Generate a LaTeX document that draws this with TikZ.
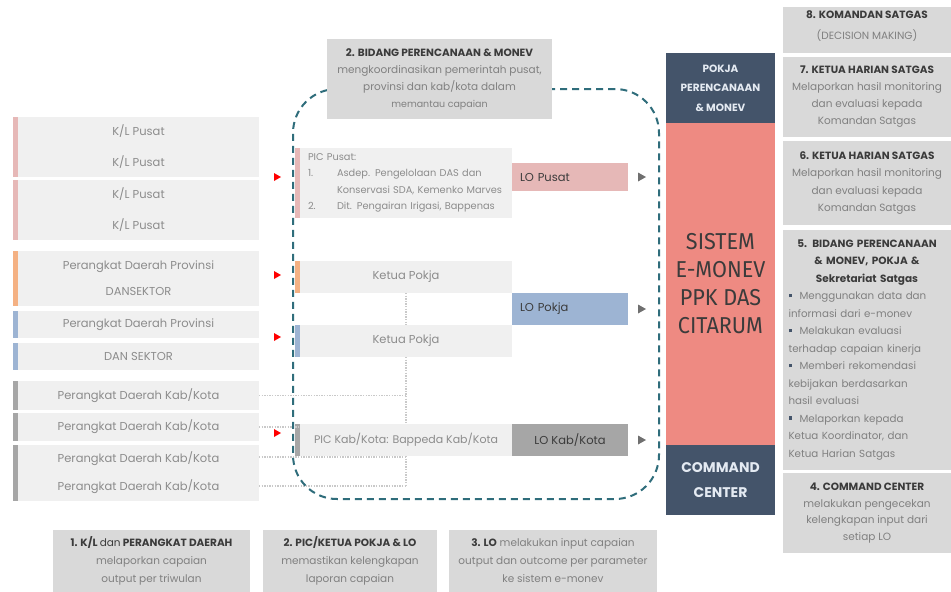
\documentclass[tikz,border=0pt]{standalone}
\usepackage{fontspec}
\setmainfont{Poppins}
\newfontfamily\condfont[FakeStretch=0.94]{Fira Sans}
\usetikzlibrary{calc}
\definecolor{panel}{HTML}{D9D9D9}
\definecolor{lightbox}{HTML}{F0F0F0}
\definecolor{pinkc}{HTML}{E6B8B7}
\definecolor{orangec}{HTML}{F4B183}
\definecolor{bluec}{HTML}{9DB4D3}
\definecolor{grayc}{HTML}{A6A6A6}
\definecolor{navy}{HTML}{44546A}
\definecolor{salmon}{HTML}{EE8A82}
\definecolor{zoneteal}{HTML}{2F6D7B}
\definecolor{softtext}{HTML}{8C8C8C}
\definecolor{desctext}{HTML}{808080}
\definecolor{headtext}{HTML}{3B3B3B}
\definecolor{tipgray}{HTML}{6F6F6F}
\definecolor{dotline}{HTML}{C9C9C9}
\definecolor{lighttitle}{HTML}{E4EAF2}

\tikzset{
  box/.style={anchor=north west, inner sep=0pt, outer sep=0pt, align=center},
  lbox/.style={box, fill=lightbox, text=softtext, minimum width=241pt,
    font=\fontsize{11.5}{28}\selectfont},
  cbox/.style={box, fill=lightbox, text=softtext, minimum width=212pt,
    minimum height=32pt, font=\fontsize{11.5}{14}\selectfont},
  lobox/.style={box, minimum width=116pt, minimum height=32pt, text=headtext,
    font=\fontsize{11.5}{14}\selectfont},
  pbox/.style={box, fill=panel, minimum width=168pt, text=desctext},
  bbox/.style={box, fill=panel, minimum height=62pt, text=desctext,
    font=\fontsize{10.5}{18}\selectfont},
  treeline/.style={draw=dotline, line width=1.6pt, dash pattern=on 1.3pt off 1.3pt},
  zone/.style={box, draw=zoneteal, line width=2pt, dash pattern=on 7pt off 5pt,
    rounded corners=44pt},
  flag/.style={fill=red},
  tip/.style={fill=tipgray},
}
\newcommand\leftbar[2]{\fill[#1] (#2.north west) rectangle ([xshift=-5pt]#2.south west);}
\newcommand\redflag[2]{\fill[flag] ([xshift=-19pt,yshift=#2]#1.west) -- ++(-7pt,4pt) -- ++(0pt,-8pt) -- cycle;}
\newcommand\graytip[1]{\fill[tip] ([xshift=10pt,yshift=4.5pt]#1.east) -- ++(8pt,-4.5pt) -- ++(-8pt,-4.5pt) -- cycle;}
\newcommand\hdtext[1]{{\color{headtext}\bfseries\fontsize{10.5}{17}\selectfont #1}}
\newcommand\bitem[1]{\par\noindent\hangindent=11pt\hangafter=1
  \makebox[11pt][l]{\textcolor{navy}{\rule[2.5pt]{3.5pt}{3.5pt}}}#1}

\begin{document}
\begin{tikzpicture}[x=1pt,y=-1pt]
\useasboundingbox[fill=white] (0,0) rectangle (951,592);

% ---- left column: reporting units ----
\node[lbox, minimum height=60pt, font=\fontsize{11.5}{31}\selectfont] (kl1) at (18,117) {K/L Pusat\\K/L Pusat};
\node[lbox, minimum height=60pt, font=\fontsize{11.5}{31}\selectfont] (kl2) at (18,180) {K/L Pusat\\K/L Pusat};
\node[lbox, minimum height=55pt, font=\fontsize{11.5}{26}\selectfont] (prov1) at (18,251) {Perangkat Daerah Provinsi\\DANSEKTOR};
\node[lbox, minimum height=27pt] (prov2) at (18,311) {Perangkat Daerah Provinsi};
\node[lbox, minimum height=27pt] (prov3) at (18,343) {DAN SEKTOR};
\node[lbox, minimum height=29pt] (kab1) at (18,381) {Perangkat Daerah Kab/Kota};
\node[lbox, minimum height=28pt] (kab2) at (18,413) {Perangkat Daerah Kab/Kota};
\node[lbox, minimum height=56pt] (kab3) at (18,445) {Perangkat Daerah Kab/Kota\\Perangkat Daerah Kab/Kota};
\leftbar{pinkc}{kl1}
\leftbar{pinkc}{kl2}
\leftbar{orangec}{prov1}
\leftbar{bluec}{prov2}
\leftbar{bluec}{prov3}
\leftbar{grayc}{kab1}
\leftbar{grayc}{kab2}
\leftbar{grayc}{kab3}

% ---- centre column: PIC / ketua pokja and LO ----
\node[box, fill=lightbox, text=softtext, minimum width=212pt, minimum height=70pt,
  text width=208pt, align=left, font=\fontsize{9.8}{16.5}\selectfont] (picpusat) at (300,148)
  {\hspace*{6pt}PIC Pusat:\\
   \hspace*{6pt}\makebox[29pt][l]{1.}Asdep. Pengelolaan DAS dan\\
   \hspace*{35pt}Konservasi SDA, Kemenko Marves\\
   \hspace*{6pt}\makebox[29pt][l]{2.}Dit. Pengairan Irigasi, Bappenas};
\node[lobox, fill=pinkc, minimum height=28pt, text width=112pt, align=left] (lopusat) at (512,163) {\hspace*{6pt}LO Pusat};
\node[cbox] (ketua1) at (300,261) {Ketua Pokja};
\node[lobox, fill=bluec, text width=112pt, align=left] (lopokja) at (512,293) {\hspace*{6pt}LO Pokja};
\node[cbox] (ketua2) at (300,325) {Ketua Pokja};
\node[cbox, font=\fontsize{11}{14}\selectfont] (pickab) at (300,424) {PIC Kab/Kota: Bappeda Kab/Kota};
\node[lobox, fill=grayc] (lokab) at (512,424) {LO Kab/Kota};
\leftbar{pinkc}{picpusat}
\leftbar{orangec}{ketua1}
\leftbar{bluec}{ketua2}
\leftbar{grayc}{pickab}

% ---- dotted links from kab/kota units into the pokja tree ----
\draw[treeline] (ketua1.south) -- (ketua2.north);
\draw[treeline] (ketua2.south) -- (pickab.north);
\draw[treeline] (kab1.east) -- (kab1.east -| ketua2.south);
\draw[treeline] (kab2.east) -- (kab2.east -| pickab.west);
\draw[treeline] ([yshift=16pt]kab3.east) coordinate (k3a) -- (k3a -| ketua2.south);
\draw[treeline] ([yshift=-13pt]kab3.east) coordinate (k3b) -- (k3b -| pickab.south);
\draw[treeline] (pickab.south) -- (k3b -| pickab.south);

% ---- markers ----
\redflag{picpusat}{6pt}
\redflag{ketua1}{2pt}
\redflag{ketua2}{4pt}
\redflag{pickab}{7pt}
\graytip{lopusat}
\graytip{lopokja}
\graytip{lokab}

% ---- monitoring zone and its title ----
\node[zone, minimum width=366pt, minimum height=410pt] (zone) at (293,89) {};
\node[box, fill=panel, minimum width=225pt, minimum height=80pt, text=desctext,
  font=\fontsize{10.5}{17}\selectfont] (bidang) at (327,39)
  {\hdtext{2. BIDANG PERENCANAAN \& MONEV}\\
   mengkoordinasikan pemerintah pusat,\\
   provinsi dan kab/kota dalam\\
   {\fontsize{9.5}{17}\selectfont memantau capaian}};

% ---- central system column ----
\node[box, fill=navy, minimum width=109pt, minimum height=70pt, text=lighttitle,
  font=\bfseries\fontsize{10.5}{19.5}\selectfont] (pokja) at (666,53) {POKJA\\PERENCANAAN\\\& MONEV};
\node[box, fill=salmon, minimum width=109pt, minimum height=322pt, text=headtext,
  font=\condfont\fontsize{23}{28}\selectfont] (sistem) at (666,123) {SISTEM\\E-MONEV\\PPK DAS\\CITARUM};
\node[box, fill=navy, minimum width=109pt, minimum height=70pt, text=lighttitle,
  font=\bfseries\fontsize{14}{25}\selectfont] (command) at (666,445) {COMMAND\\CENTER};

% ---- right column: roles ----
\node[pbox, minimum height=46pt] (r8) at (783,7) {};
\node[text=desctext, align=center, inner sep=0pt, font=\fontsize{10.5}{21}\selectfont]
  (r8text) at ([yshift=4pt]r8.center) {\hdtext{8. KOMANDAN SATGAS}\\(DECISION MAKING)};
\node[pbox, minimum height=80pt, font=\fontsize{10.5}{17}\selectfont] (r7) at (783,57)
  {\hdtext{7. KETUA HARIAN SATGAS}\\Melaporkan hasil monitoring\\
   dan evaluasi kepada\\Komandan Satgas};
\node[pbox, minimum height=84pt, font=\fontsize{10.5}{17.5}\selectfont] (r6) at (783,141)
  {\hdtext{6. KETUA HARIAN SATGAS}\\Melaporkan hasil monitoring\\
   dan evaluasi kepada\\Komandan Satgas};
\node[pbox, minimum height=240pt, text width=157pt, align=left,
  font=\fontsize{10.3}{17.5}\selectfont] (r5) at (783,230)
  {{\centering\color{headtext}\bfseries\fontsize{10.5}{17.5}\selectfont
    5. BIDANG PERENCANAAN\\\& MONEV, POKJA \&\\Sekretariat Satgas\par}
   \bitem{Menggunakan data dan\\informasi dari e-monev}
   \bitem{Melakukan evaluasi\\terhadap capaian kinerja}
   \bitem{Memberi rekomendasi\\kebijakan berdasarkan\\hasil evaluasi}
   \bitem{Melaporkan kepada\\Ketua Koordinator, dan\\Ketua Harian Satgas}};
\node[pbox, minimum height=80pt, font=\fontsize{10.5}{16.5}\selectfont] (r4) at (783,473)
  {\hdtext{4. COMMAND CENTER}\\melakukan pengecekan\\kelengkapan input dari\\setiap LO};

% ---- bottom row: steps ----
\node[bbox, minimum width=197pt] (b1) at (53,530)
  {\hdtext{1. K/L {\mdseries dan} PERANGKAT DAERAH}\\melaporkan capaian\\output per triwulan};
\node[bbox, minimum width=174pt] (b2) at (263,530)
  {\hdtext{2. PIC/KETUA POKJA \& LO}\\memastikan kelengkapan\\laporan capaian};
\node[bbox, minimum width=208pt] (b3) at (449,530)
  {\hdtext{3. LO} melakukan input capaian\\output dan outcome per parameter\\ke sistem e-monev};
\end{tikzpicture}
\end{document}
